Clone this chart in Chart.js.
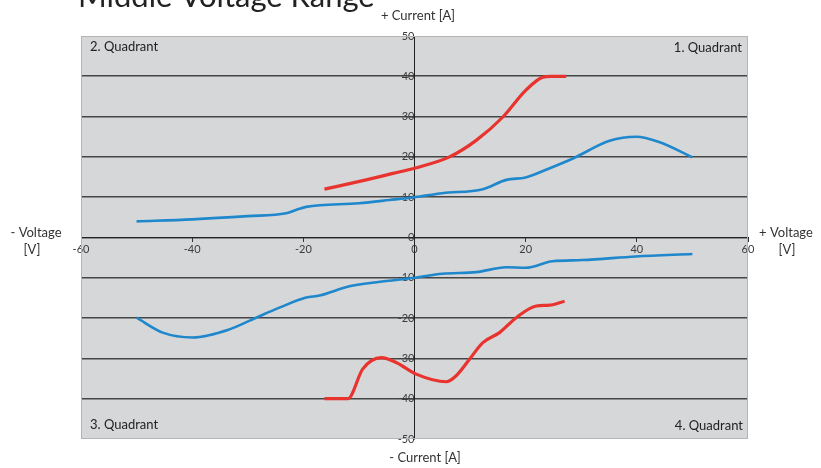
<!DOCTYPE html>
<html>
<head>
<meta charset="utf-8">
<script src="https://cdn.jsdelivr.net/npm/chart.js@4/dist/chart.umd.min.js"></script>
<style>
html,body{margin:0;padding:0;background:#fff;}
#wrap{width:821px;height:468px;position:relative;}
</style>
</head>
<body>
<div id="wrap"><canvas id="c" width="821" height="468"></canvas></div>
<script>
// ---- data ----
const xTicks = [-60, -40, -20, 0, 20, 40, 60];
const yTicks = [50, 40, 30, 20, 10, 0, -10, -20, -30, -40, -50];

const redUpV = [-16.2, -8.7, -3.9, 0, 6.3, 11.1, 15.9, 20, 23.1, 24.5, 27.3];
const redUpI = [12, 14.3, 15.9, 17.2, 20, 24.1, 29.9, 36.5, 39.8, 40, 40];

const blueUpV = [-50, -40, -30, -23.1, -21, -19.5, -10, -4.5, 0, 5, 12.3, 16.5, 20, 24, 28.5, 35.1, 39.9, 44, 50];
const blueUpI = [4, 4.5, 5.3, 6.0, 7.0, 7.6, 8.5, 9.3, 10, 11, 12, 14.3, 14.9, 17, 19.6, 24, 25, 23.7, 19.9];

const blueLoV = [-50, -45.3, -39.9, -33.3, -28.5, -24.3, -19.5, -17.1, -11.7, -5.1, 0, 5, 11.1, 16.5, 20, 24.8, 30.2, 39.8, 50];
const blueLoI = [-19.9, -23.6, -24.8, -22.8, -19.9, -17.4, -14.9, -14.4, -12.1, -10.8, -10, -9, -8.6, -7.4, -7.5, -5.9, -5.6, -4.7, -4.1];

const redLoV = [-16.2, -12, -9.3, -6, -3.3, 0.3, 5.7, 7.5, 9.9, 12.3, 15.3, 18.3, 21.9, 24.3, 27];
const redLoI = [-40, -40, -32.6, -29.8, -31, -33.9, -35.8, -34.3, -30.2, -26.1, -23.6, -19.9, -17, -16.8, -15.8];

const titleText = 'Middle Voltage Range';
const quadrantLabels = ['1. Quadrant', '2. Quadrant', '3. Quadrant', '4. Quadrant'];
const axisLabels = {top: '+ Current [A]', bottom: '- Current [A]', left: ['- Voltage', '[V]'], right: ['+ Voltage', '[V]']};

function pts(xs, ys) { return xs.map((x, i) => ({x: x, y: ys[i]})); }

const RED = '#e8332e';
const BLUE = '#1f87cc';
const FONT = 'Lato, "Open Sans", sans-serif';

const bgPlugin = {
  id: 'bg',
  beforeDraw(chart) {
    const {ctx, chartArea: a} = chart;
    ctx.save();
    ctx.fillStyle = '#d6d7d9';
    ctx.fillRect(a.left, a.top, a.right - a.left, a.bottom - a.top);
    ctx.restore();
  },
  afterDraw(chart) {
    const {ctx, chartArea: a} = chart;
    ctx.save();
    ctx.strokeStyle = '#b4b4b4';
    ctx.lineWidth = 1;
    ctx.strokeRect(a.left + 0.5, a.top + 0.5, a.right - a.left - 1, a.bottom - a.top - 1);
    // title (partly cut off at the top edge)
    ctx.fillStyle = '#222';
    ctx.font = '31px ' + FONT;
    ctx.textBaseline = 'alphabetic';
    ctx.textAlign = 'left';
    ctx.fillText(titleText, 78, 7);
    // axis captions
    ctx.fillStyle = '#333';
    ctx.font = '13px ' + FONT;
    ctx.textBaseline = 'middle';
    ctx.textAlign = 'center';
    ctx.fillText(axisLabels.top, 418, 16);
    ctx.fillText(axisLabels.bottom, 425, 458);
    ctx.fillText(axisLabels.left[0], 36, 233);
    ctx.fillText(axisLabels.left[1], 32, 250);
    ctx.fillText(axisLabels.right[0], 786, 233);
    ctx.fillText(axisLabels.right[1], 787, 250);
    // quadrant labels
    ctx.fillStyle = '#222';
    ctx.textAlign = 'right';
    ctx.fillText(quadrantLabels[0], a.right - 6, 48);
    ctx.fillText(quadrantLabels[3], a.right - 5, 426);
    ctx.textAlign = 'left';
    ctx.fillText(quadrantLabels[1], a.left + 9, 47);
    ctx.fillText(quadrantLabels[2], a.left + 9, 425);
    ctx.restore();
  }
};

function line(data, color, width) {
  return {
    data: data,
    showLine: true,
    borderColor: color,
    backgroundColor: color,
    borderWidth: width,
    pointRadius: 0,
    pointHoverRadius: 0,
    cubicInterpolationMode: 'monotone',
    fill: false
  };
}

new Chart(document.getElementById('c'), {
  type: 'scatter',
  data: {
    datasets: [
      line(pts(blueUpV, blueUpI), BLUE, 2.6),
      line(pts(blueLoV, blueLoI), BLUE, 2.6),
      line(pts(redUpV, redUpI), RED, 3.2),
      line(pts(redLoV, redLoI), RED, 3.2)
    ]
  },
  options: {
    responsive: false,
    animation: false,
    events: [],
    layout: {padding: {left: 81, right: 73, top: 36, bottom: 29}},
    plugins: {legend: {display: false}, tooltip: {enabled: false}, title: {display: false}},
    scales: {
      x: {
        type: 'linear',
        min: -60, max: 60,
        position: {y: 0},
        afterBuildTicks(s) { s.ticks = xTicks.map(v => ({value: v})); },
        grid: {display: true, drawOnChartArea: false, drawTicks: true, tickLength: 4, color: '#333', lineWidth: 1},
        border: {display: true, color: '#222', width: 1},
        ticks: {color: '#3c3c3c', font: {family: FONT, size: 11}, padding: 1, maxRotation: 0, autoSkip: false}
      },
      y: {
        type: 'linear',
        min: -50, max: 50,
        position: {x: 0},
        afterBuildTicks(s) { s.ticks = yTicks.map(v => ({value: v})); },
        grid: {
          display: true, drawOnChartArea: true, drawTicks: true, tickLength: 4,
          color: ctx => (ctx.tick && Math.abs(ctx.tick.value) === 50) ? 'rgba(0,0,0,0)' : '#454545',
          lineWidth: 1.6
        },
        border: {display: true, color: '#222', width: 1},
        ticks: {color: '#3c3c3c', font: {family: FONT, size: 11}, padding: 3, autoSkip: false}
      }
    }
  },
  plugins: [bgPlugin]
});
</script>
</body>
</html>
